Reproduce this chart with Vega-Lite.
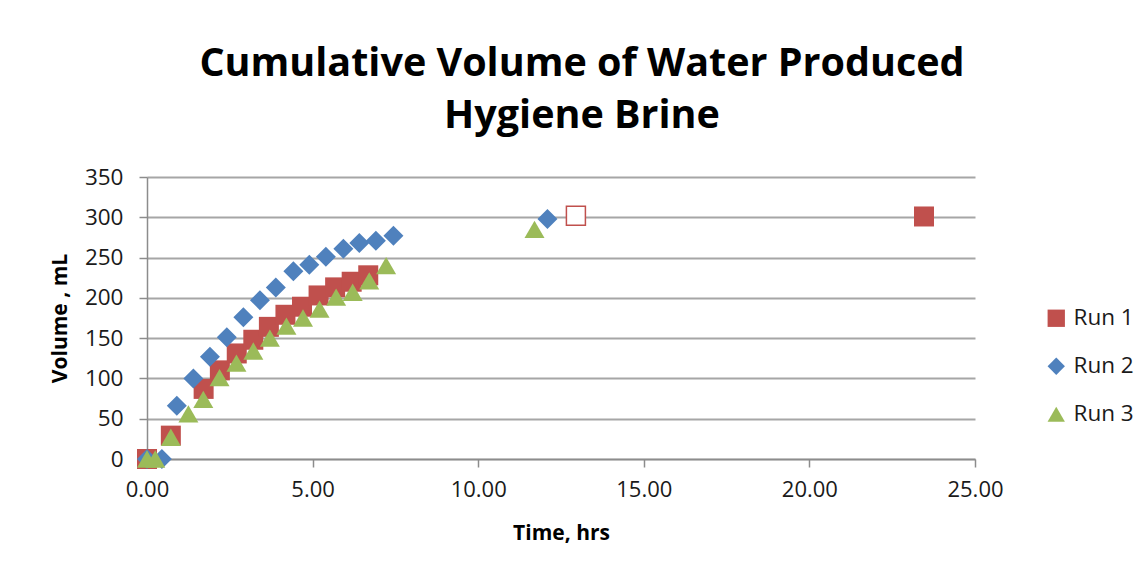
{
  "$schema": "https://vega.github.io/schema/vega-lite/v6.json",
  "width": 828,
  "height": 282,
  "autosize": {"type": "none"},
  "padding": {"left": 147, "top": 177, "right": 169, "bottom": 119},
  "background": "white",
  "title": {
    "text": ["Cumulative Volume of Water Produced", "Hygiene Brine"],
    "font": "Open Sans",
    "fontSize": 39.5,
    "fontWeight": "bold",
    "color": "#000000",
    "anchor": "middle",
    "dx": 21,
    "lineHeight": 52,
    "offset": 30
  },
  "data": {
    "values": [
      {"run": "Run 1", "t": 0, "v": 0},
      {"run": "Run 1", "t": 0.72, "v": 29},
      {"run": "Run 1", "t": 1.71, "v": 87},
      {"run": "Run 1", "t": 2.2, "v": 110},
      {"run": "Run 1", "t": 2.71, "v": 131},
      {"run": "Run 1", "t": 3.21, "v": 148},
      {"run": "Run 1", "t": 3.68, "v": 164},
      {"run": "Run 1", "t": 4.18, "v": 179},
      {"run": "Run 1", "t": 4.68, "v": 189},
      {"run": "Run 1", "t": 5.18, "v": 203},
      {"run": "Run 1", "t": 5.68, "v": 213},
      {"run": "Run 1", "t": 6.18, "v": 220},
      {"run": "Run 1", "t": 6.68, "v": 228},
      {"run": "Run 1", "t": 12.95, "v": 302, "hollow": true},
      {"run": "Run 1", "t": 23.46, "v": 301},
      {"run": "Run 2", "t": 0, "v": 0},
      {"run": "Run 2", "t": 0.45, "v": 0},
      {"run": "Run 2", "t": 0.9, "v": 66},
      {"run": "Run 2", "t": 1.4, "v": 100},
      {"run": "Run 2", "t": 1.9, "v": 127},
      {"run": "Run 2", "t": 2.41, "v": 151},
      {"run": "Run 2", "t": 2.91, "v": 176},
      {"run": "Run 2", "t": 3.41, "v": 197},
      {"run": "Run 2", "t": 3.89, "v": 213},
      {"run": "Run 2", "t": 4.42, "v": 233},
      {"run": "Run 2", "t": 4.9, "v": 241},
      {"run": "Run 2", "t": 5.4, "v": 251},
      {"run": "Run 2", "t": 5.93, "v": 261},
      {"run": "Run 2", "t": 6.41, "v": 268},
      {"run": "Run 2", "t": 6.91, "v": 271},
      {"run": "Run 2", "t": 7.44, "v": 277},
      {"run": "Run 2", "t": 12.09, "v": 298},
      {"run": "Run 3", "t": 0, "v": 0},
      {"run": "Run 3", "t": 0.25, "v": 0},
      {"run": "Run 3", "t": 0.72, "v": 27},
      {"run": "Run 3", "t": 1.25, "v": 56},
      {"run": "Run 3", "t": 1.7, "v": 74},
      {"run": "Run 3", "t": 2.19, "v": 101},
      {"run": "Run 3", "t": 2.7, "v": 119},
      {"run": "Run 3", "t": 3.21, "v": 134},
      {"run": "Run 3", "t": 3.71, "v": 150},
      {"run": "Run 3", "t": 4.21, "v": 165},
      {"run": "Run 3", "t": 4.71, "v": 175},
      {"run": "Run 3", "t": 5.21, "v": 186},
      {"run": "Run 3", "t": 5.71, "v": 201},
      {"run": "Run 3", "t": 6.21, "v": 207},
      {"run": "Run 3", "t": 6.71, "v": 221},
      {"run": "Run 3", "t": 7.22, "v": 240},
      {"run": "Run 3", "t": 11.7, "v": 285}
    ]
  },
  "layer": [
    {
      "transform": [{"filter": "datum.hollow !== true"}],
      "mark": {"type": "point", "filled": true, "opacity": 1, "size": 400, "strokeWidth": 0},
      "encoding": {
        "x": {
          "field": "t", "type": "quantitative",
          "scale": {"domain": [0, 25], "nice": false, "zero": true},
          "axis": {
            "title": "Time, hrs",
            "values": [0, 5, 10, 15, 20, 25],
            "format": ".2f",
            "grid": false,
            "labelFlush": false,
            "domainColor": "#8c8c8c", "domainWidth": 1.5,
            "tickColor": "#8c8c8c", "tickWidth": 1.5, "tickSize": 8,
            "labelFont": "Open Sans", "labelFontSize": 22, "labelColor": "#1a1a1a",
            "labelPadding": 12,
            "titleFont": "Open Sans", "titleFontSize": 21, "titleFontWeight": "bold", "titleColor": "#000000",
            "titlePadding": 22, "titleAnchor": "middle"
          }
        },
        "y": {
          "field": "v", "type": "quantitative",
          "scale": {"domain": [0, 350], "nice": false},
          "axis": {
            "title": "Volume , mL",
            "values": [0, 50, 100, 150, 200, 250, 300, 350],
            "format": "d",
            "grid": true, "gridColor": "#a6a6a6", "gridWidth": 2,
            "domainColor": "#8c8c8c", "domainWidth": 1.5,
            "tickColor": "#8c8c8c", "tickWidth": 1.5, "tickSize": 8,
            "labelFont": "Open Sans", "labelFontSize": 22.5, "labelColor": "#1a1a1a",
            "labelPadding": 16,
            "titleFont": "Open Sans", "titleFontSize": 21, "titleFontWeight": "bold", "titleColor": "#000000",
            "titlePadding": 14
          }
        },
        "color": {
          "field": "run", "type": "nominal",
          "scale": {"domain": ["Run 1", "Run 2", "Run 3"], "range": ["#C0504D", "#4F81BD", "#9BBB59"]},
          "legend": {
            "title": null,
            "orient": "none",
            "legendX": 898,
            "legendY": 130,
            "padding": 0,
            "symbolSize": 300,
            "symbolStrokeWidth": 0,
            "labelFont": "Open Sans", "labelFontSize": 22.5, "labelColor": "#1a1a1a",
            "labelOffset": 6,
            "rowPadding": 25
          }
        },
        "shape": {
          "field": "run", "type": "nominal",
          "scale": {"domain": ["Run 1", "Run 2", "Run 3"], "range": ["square", "diamond", "triangle-up"]}
        }
      }
    },
    {
      "transform": [{"filter": "datum.hollow === true"}],
      "mark": {"type": "point", "filled": false, "shape": "square", "opacity": 1, "size": 361, "stroke": "#C0504D", "strokeWidth": 1.5, "fill": "white"},
      "encoding": {
        "x": {"field": "t", "type": "quantitative"},
        "y": {"field": "v", "type": "quantitative"}
      }
    }
  ],
  "config": {
    "view": {"stroke": null},
    "axis": {"domainCap": "butt"}
  }
}
